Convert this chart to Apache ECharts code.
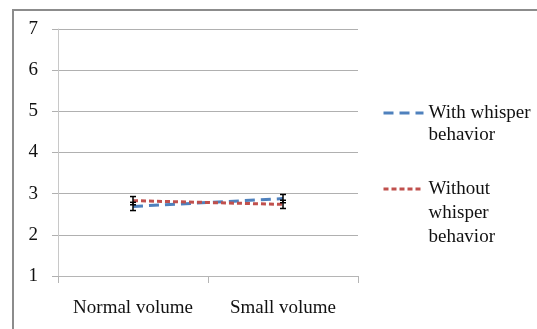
<!DOCTYPE html>
<html>
<head>
<meta charset="utf-8">
<script src="https://cdn.jsdelivr.net/npm/echarts@6/dist/echarts.min.js"></script>
<style>html,body{margin:0;padding:0;background:#fff;}#c{width:537px;height:329px;}</style>
</head>
<body>
<div id="c"></div>
<script>
var categories = ['Normal volume', 'Small volume'];
var withWhisper = [2.69, 2.88];
var withoutWhisper = [2.83, 2.74];
var withWhisperErr = [0.1, 0.1];
var withoutWhisperErr = [0.1, 0.1];
var yTicks = [1, 2, 3, 4, 5, 6, 7];
var seriesNames = ['With whisper behavior', 'Without whisper behavior'];
var legendLabels = ['\nWith whisper\nbehavior', '\n\nWithout\nwhisper\nbehavior'];

var FONT = "'Liberation Serif', serif";
var FS = 19;
var chart = echarts.init(document.getElementById('c'), null, {renderer: 'canvas'});

function errData(vals, errs) {
  return vals.map(function (v, i) { return [i, v - errs[i], v + errs[i]]; });
}
function errRender(params, api) {
  var x = api.value(0);
  var lo = api.coord([x, api.value(1)]);
  var hi = api.coord([x, api.value(2)]);
  var w = 3;
  var st = {stroke: '#000', lineWidth: 1.5};
  return {
    type: 'group',
    children: [
      {type: 'line', shape: {x1: hi[0], y1: hi[1], x2: lo[0], y2: lo[1]}, style: st},
      {type: 'line', shape: {x1: hi[0] - w, y1: hi[1], x2: hi[0] + w, y2: hi[1]}, style: st},
      {type: 'line', shape: {x1: lo[0] - w, y1: lo[1], x2: lo[0] + w, y2: lo[1]}, style: st}
    ]
  };
}

var option = {
  backgroundColor: '#fff',
  animation: false,
  textStyle: {fontFamily: FONT},
  graphic: [{
    type: 'rect',
    shape: {x: 13, y: 10, width: 700, height: 500},
    style: {fill: 'none', stroke: '#8c8c8c', lineWidth: 2},
    silent: true
  }],
  grid: {left: 58, top: 29, width: 300, height: 247, containLabel: false},
  legend: [
    {
      data: [seriesNames[0]],
      left: 382, top: 80, padding: 0,
      orient: 'vertical',
      itemWidth: 40, itemHeight: 14, itemGap: 0,
      itemStyle: {opacity: 0, borderWidth: 0},
      lineStyle: {width: 3},
      formatter: function () { return legendLabels[0]; },
      textStyle: {fontFamily: FONT, fontSize: FS, color: '#111', lineHeight: 22}
    },
    {
      data: [seriesNames[1]],
      left: 382, top: 129, padding: 0,
      orient: 'vertical',
      itemWidth: 40, itemHeight: 14, itemGap: 0,
      itemStyle: {opacity: 0, borderWidth: 0},
      lineStyle: {width: 3},
      formatter: function () { return legendLabels[1]; },
      textStyle: {fontFamily: FONT, fontSize: FS, color: '#111', lineHeight: 24}
    }
  ],
  xAxis: {
    type: 'category',
    data: categories,
    boundaryGap: true,
    axisLine: {lineStyle: {color: '#b5b5b5', width: 1}},
    axisTick: {show: true, interval: 0, length: 7, lineStyle: {color: '#b5b5b5'}},
    axisLabel: {fontFamily: FONT, fontSize: FS, color: '#111', margin: 23, interval: 0}
  },
  yAxis: {
    type: 'value',
    min: yTicks[0], max: yTicks[yTicks.length - 1], interval: 1,
    axisLine: {show: true, lineStyle: {color: '#c8c8c8', width: 1}},
    axisTick: {show: true, length: 6, lineStyle: {color: '#b0b0b0'}},
    splitLine: {show: true, lineStyle: {color: '#b0b0b0', width: 1}},
    axisLabel: {fontFamily: FONT, fontSize: FS, color: '#111', margin: 20}
  },
  series: [
    {
      name: seriesNames[0], type: 'line', data: withWhisper,
      symbol: 'none', z: 3,
      lineStyle: {color: '#4f81bd', width: 3, type: [10, 6]},
      itemStyle: {color: '#4f81bd'}
    },
    {
      name: seriesNames[1], type: 'line', data: withoutWhisper,
      symbol: 'none', z: 3,
      lineStyle: {color: '#c0504d', width: 3, type: [5, 3]},
      itemStyle: {color: '#c0504d'}
    },
    {
      type: 'custom', name: 'err1', data: errData(withWhisper, withWhisperErr),
      renderItem: errRender, z: 5, silent: true
    },
    {
      type: 'custom', name: 'err2', data: errData(withoutWhisper, withoutWhisperErr),
      renderItem: errRender, z: 5, silent: true
    }
  ]
};
chart.setOption(option);
</script>
</body>
</html>
